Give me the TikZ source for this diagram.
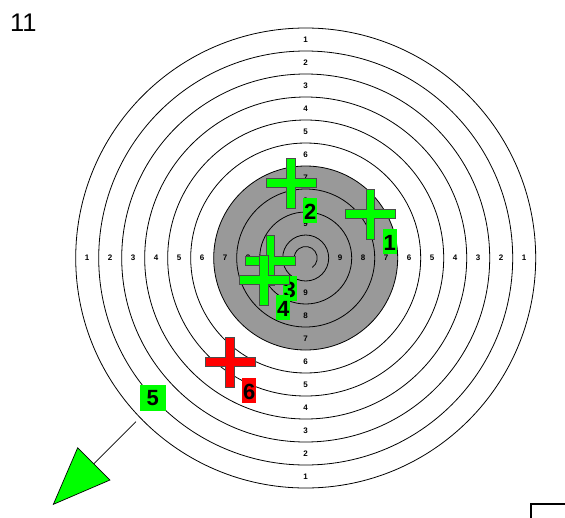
\documentclass[tikz,border=0pt]{standalone}
\usepackage{fontspec}
\setmainfont{Liberation Sans}
\usetikzlibrary{arrows.meta}
\definecolor{hitgreen}{RGB}{0,255,0}
\definecolor{hitred}{RGB}{255,0,0}
\definecolor{bullgray}{RGB}{153,153,153}

% one hit: plus mark and its number tag
\newcommand{\shot}[5]{%
  \path[plusmark, fill=#4, shift={(#2,#3)}]
    (-4.2,-25) -- (4.2,-25) -- (4.2,-4.5) -- (25,-4.5) -- (25,4.5) -- (4.2,4.5)
    -- (4.2,25) -- (-4.2,25) -- (-4.2,4.5) -- (-25,4.5) -- (-25,-4.5) -- (-4.2,-4.5) -- cycle;
  \node[hitlabel, fill=#4] (#1) at ({#2+12},{#3+15}) {#5};
}

\begin{document}
\begin{tikzpicture}[
    x=1pt, y=-1pt,
    ring/.style={draw=black, line width=0.8pt},
    ringnum/.style={font=\fontsize{8}{8}\selectfont\bfseries, inner sep=0pt,
                    text height=5.8pt, text depth=0pt},
    plusmark/.style={draw=black!70, line width=0.7pt},
    hitlabel/.style={anchor=north west, inner sep=0pt, inner xsep=0.8pt,
                     text height=21.5pt, text depth=3.5pt,
                     font=\fontsize{22}{22}\selectfont\bfseries}
]
\useasboundingbox (0,0) rectangle (565,517);

\node[anchor=base west, font=\fontsize{25.5}{25.5}\selectfont] (sheetno) at (6.5,31) {11};

\coordinate (ctr) at (305.7,258);
\fill[bullgray] (ctr) circle (92);
\foreach \r in {1,...,10}
  \draw[ring] (ctr) circle ({23*\r});
\draw[ring] ([shift={(55:11.5)}]ctr) arc[start angle=55, end angle=-185, radius=11.5];

% ring numbers
\foreach \n in {1,...,9} {
  \pgfmathsetmacro\d{23*(10.5-\n)}
  \node[ringnum] (rt\n) at (305.7,{258-\d}) {\n};
  \node[ringnum] (rb\n) at (305.7,{258+\d}) {\n};
  \node[ringnum] (rl\n) at ({305.7-\d},258) {\n};
  \node[ringnum] (rr\n) at ({305.7+\d},258) {\n};
}

% hits
\shot{hit1}{370.5}{214}{hitgreen}{1}
\shot{hit2}{291}{183}{hitgreen}{2}
\shot{hit3}{270.5}{260.5}{hitgreen}{3}
\shot{hit4}{264}{280}{hitgreen}{4}
\shot{hit6}{230}{362.3}{hitred}{6}

\node[fill=hitgreen, inner sep=0pt, minimum size=25.7pt,
      font=\fontsize{22}{22}\selectfont\bfseries] (hit5) at (152.8,397.8) {5};
\coordinate (offstart) at (136,421.7);
\coordinate (offend) at (52.7,505);
\draw[line width=0.7pt, -{Triangle[length=58.5pt, width=46.5pt, fill=hitgreen]}]
  (offstart) -- (offend);

\draw[line width=2.3pt] (531.2,518) -- (531.2,503.8) -- (566,503.8);
\end{tikzpicture}
\end{document}
